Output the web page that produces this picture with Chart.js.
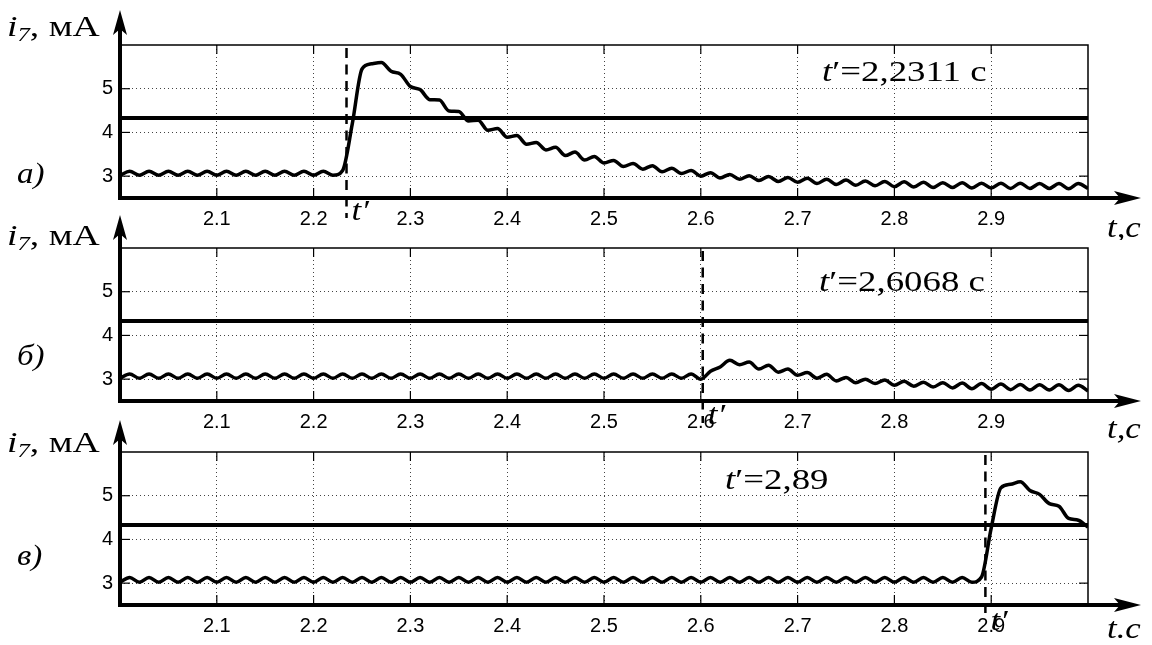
<!DOCTYPE html>
<html>
<head>
<meta charset="utf-8">
<script src="https://cdn.jsdelivr.net/npm/chart.js@4.4.0/dist/chart.umd.min.js"></script>
<style>
  html, body { margin: 0; padding: 0; background: #fff; overflow: hidden; }
  #wrap { position: relative; width: 1152px; height: 645px; }
  canvas { position: absolute; left: 0; }
</style>
</head>
<body>
<div id="wrap">
  <canvas id="chart-a" width="1152" height="240" style="top:0px"></canvas>
  <canvas id="chart-b" width="1152" height="240" style="top:203px"></canvas>
  <canvas id="chart-c" width="1152" height="240" style="top:407px"></canvas>
</div>
<script>
// sample times, s
const times = [
  2.00, 2.01, 2.02, 2.03, 2.04, 2.05, 2.06, 2.07, 2.08, 2.09,
  2.10, 2.11, 2.12, 2.13, 2.14, 2.15, 2.16, 2.17, 2.18, 2.19,
  2.20, 2.21, 2.22, 2.23, 2.24, 2.25, 2.26, 2.27, 2.28, 2.29,
  2.30, 2.31, 2.32, 2.33, 2.34, 2.35, 2.36, 2.37, 2.38, 2.39,
  2.40, 2.41, 2.42, 2.43, 2.44, 2.45, 2.46, 2.47, 2.48, 2.49,
  2.50, 2.51, 2.52, 2.53, 2.54, 2.55, 2.56, 2.57, 2.58, 2.59,
  2.60, 2.61, 2.62, 2.63, 2.64, 2.65, 2.66, 2.67, 2.68, 2.69,
  2.70, 2.71, 2.72, 2.73, 2.74, 2.75, 2.76, 2.77, 2.78, 2.79,
  2.80, 2.81, 2.82, 2.83, 2.84, 2.85, 2.86, 2.87, 2.88, 2.89,
  2.90, 2.91, 2.92, 2.93, 2.94, 2.95, 2.96, 2.97, 2.98, 2.99,
  3.00
];

// i7, mA  (а)
const iA = [
  3.02, 3.11, 3.02, 3.11, 3.02, 3.11, 3.02, 3.11, 3.02, 3.11,
  3.02, 3.11, 3.02, 3.11, 3.02, 3.11, 3.02, 3.11, 3.02, 3.11,
  3.02, 3.11, 3.02, 3.13, 4.20, 5.45, 5.57, 5.60, 5.40, 5.33,
  5.05, 4.98, 4.75, 4.74, 4.49, 4.48, 4.26, 4.28, 4.05, 4.09,
  3.89, 3.93, 3.73, 3.77, 3.60, 3.66, 3.47, 3.55, 3.37, 3.45,
  3.30, 3.36, 3.22, 3.29, 3.16, 3.24, 3.10, 3.18, 3.06, 3.13,
  3.00, 3.08, 2.96, 3.04, 2.93, 3.01, 2.90, 2.99, 2.88, 2.97,
  2.86, 2.95, 2.83, 2.93, 2.81, 2.91, 2.79, 2.89, 2.78, 2.88,
  2.76, 2.87, 2.75, 2.86, 2.74, 2.85, 2.74, 2.85, 2.73, 2.84,
  2.73, 2.84, 2.72, 2.84, 2.72, 2.83, 2.72, 2.83, 2.71, 2.83,
  2.72
];

// i7, mA  (б)
const iB = [
  3.02, 3.12, 3.02, 3.12, 3.02, 3.12, 3.02, 3.12, 3.02, 3.12,
  3.02, 3.12, 3.02, 3.12, 3.02, 3.12, 3.02, 3.12, 3.02, 3.12,
  3.02, 3.12, 3.02, 3.12, 3.02, 3.12, 3.02, 3.12, 3.02, 3.12,
  3.02, 3.12, 3.02, 3.12, 3.02, 3.12, 3.02, 3.12, 3.02, 3.12,
  3.02, 3.12, 3.02, 3.12, 3.02, 3.12, 3.02, 3.12, 3.02, 3.12,
  3.02, 3.12, 3.02, 3.12, 3.02, 3.12, 3.02, 3.12, 3.02, 3.12,
  3.00, 3.18, 3.28, 3.43, 3.33, 3.39, 3.23, 3.32, 3.16, 3.23,
  3.09, 3.15, 3.02, 3.11, 2.96, 3.04, 2.92, 3.00, 2.90, 2.98,
  2.86, 2.95, 2.84, 2.93, 2.82, 2.92, 2.80, 2.91, 2.78, 2.90,
  2.77, 2.89, 2.76, 2.88, 2.75, 2.87, 2.75, 2.87, 2.74, 2.86,
  2.73
];

// i7, mA  (в)
const iC = [
  3.02, 3.13, 3.02, 3.13, 3.02, 3.13, 3.02, 3.13, 3.02, 3.13,
  3.02, 3.13, 3.02, 3.13, 3.02, 3.13, 3.02, 3.13, 3.02, 3.13,
  3.02, 3.13, 3.02, 3.13, 3.02, 3.13, 3.02, 3.13, 3.02, 3.13,
  3.02, 3.13, 3.02, 3.13, 3.02, 3.13, 3.02, 3.13, 3.02, 3.13,
  3.02, 3.13, 3.02, 3.13, 3.02, 3.13, 3.02, 3.13, 3.02, 3.13,
  3.02, 3.13, 3.02, 3.13, 3.02, 3.13, 3.02, 3.13, 3.02, 3.13,
  3.02, 3.13, 3.02, 3.13, 3.02, 3.13, 3.02, 3.13, 3.02, 3.13,
  3.02, 3.13, 3.02, 3.13, 3.02, 3.13, 3.02, 3.13, 3.02, 3.13,
  3.02, 3.13, 3.02, 3.13, 3.02, 3.13, 3.02, 3.13, 3.02, 3.14,
  4.26, 5.18, 5.26, 5.32, 5.12, 5.03, 4.82, 4.76, 4.48, 4.44,
  4.28
];

const xRange = [2.0, 3.0];
const yRange = [2.5, 6.0];
const xTicks = [2.1, 2.2, 2.3, 2.4, 2.5, 2.6, 2.7, 2.8, 2.9];
const yTicks = [3, 4, 5];
const threshold = 4.33;
const tPrime = [2.234, 2.602, 2.894];
const tPrimeText = ['=2,2311 с', '=2,6068 с', '=2,89'];
const panelNames = ['а)', 'б)', 'в)'];
const timeAxisNames = ['t,с', 't,с', 't.с'];

const SERIF = '"Liberation Serif", "Times New Roman", serif';
const SANS = '"Liberation Sans", Arial, sans-serif';

// where the hand-placed texts go in each canvas
const panels = [
  { id: 'chart-a', values: iA, arrowTip: 10, labelY: 36, panelY: 183, unitY: 237, primeY: 220, noteX: 822, noteY: 81, dashEnd: 218 },
  { id: 'chart-b', values: iB, arrowTip: 12, labelY: 42, panelY: 162, unitY: 235, primeY: 221, noteX: 819, noteY: 88, dashEnd: 220 },
  { id: 'chart-c', values: iC, arrowTip: 13, labelY: 45, panelY: 158, unitY: 231, primeY: 223, noteX: 725, noteY: 82, dashEnd: 206 }
];

function seg(ctx, x1, y1, x2, y2) {
  ctx.beginPath(); ctx.moveTo(x1, y1); ctx.lineTo(x2, y2); ctx.stroke();
}

// draws text pieces side by side, stretched horizontally like the scan
function runs(ctx, x, y, sx, parts) {
  ctx.save();
  ctx.translate(x, y);
  ctx.scale(sx, 1);
  ctx.textAlign = 'left';
  ctx.textBaseline = 'alphabetic';
  let cx = 0;
  parts.forEach(([txt, font, dy]) => {
    ctx.font = font;
    ctx.fillText(txt, cx, dy || 0);
    cx += ctx.measureText(txt).width;
  });
  ctx.restore();
}

function decor(p, k) {
  return {
    id: 'decor' + k,
    afterDraw(chart) {
      const ctx = chart.ctx, a = chart.chartArea;
      const xs = chart.scales.x, ys = chart.scales.y;
      ctx.save();
      ctx.strokeStyle = '#000';
      ctx.fillStyle = '#000';

      // thin frame top and right
      ctx.lineWidth = 1.5;
      ctx.beginPath();
      ctx.moveTo(a.left, a.top); ctx.lineTo(a.right, a.top); ctx.lineTo(a.right, a.bottom);
      ctx.stroke();

      // short inner ticks
      ctx.lineWidth = 1.2;
      xTicks.forEach(v => {
        const x = xs.getPixelForValue(v);
        seg(ctx, x, a.top, x, a.top + 9);
        seg(ctx, x, a.bottom, x, a.bottom - 10);
      });
      yTicks.forEach(v => {
        const y = ys.getPixelForValue(v);
        seg(ctx, a.left, y, a.left + 10, y);
        seg(ctx, a.right, y, a.right - 9, y);
      });

      // thick axes with arrows
      ctx.lineWidth = 4;
      seg(ctx, a.left, a.bottom + 2, a.left, p.arrowTip + 16);
      seg(ctx, a.left - 2, a.bottom, 1124, a.bottom);
      ctx.beginPath();
      ctx.moveTo(a.left, p.arrowTip);
      ctx.lineTo(a.left - 7, p.arrowTip + 25);
      ctx.lineTo(a.left, p.arrowTip + 19);
      ctx.lineTo(a.left + 7, p.arrowTip + 25);
      ctx.closePath(); ctx.fill();
      ctx.beginPath();
      ctx.moveTo(1141, a.bottom);
      ctx.lineTo(1114, a.bottom - 7);
      ctx.lineTo(1120, a.bottom);
      ctx.lineTo(1114, a.bottom + 7);
      ctx.closePath(); ctx.fill();

      // t' marker
      const xp = xs.getPixelForValue(tPrime[k]);
      ctx.lineWidth = 2.5;
      ctx.setLineDash([10, 6.5]);
      seg(ctx, xp, a.top + 3, xp, p.dashEnd);
      ctx.setLineDash([]);

      // texts
      runs(ctx, 7, p.labelY, 1.3, [
        ['i', 'italic 29px ' + SERIF],
        ['7', 'italic 19px ' + SERIF, 5],
        [', мА', '29px ' + SERIF]
      ]);
      runs(ctx, 17, p.panelY, 1.1, [[panelNames[k], 'italic 30px ' + SERIF]]);
      runs(ctx, 1107, p.unitY, 1.2, [[timeAxisNames[k], 'italic 29px ' + SERIF]]);
      runs(ctx, xp + 5, p.primeY, 1.2, [['t′', 'italic 29px ' + SERIF]]);
      runs(ctx, p.noteX, p.noteY, 1.27, [
        ['t', 'italic 29px ' + SERIF],
        ['′' + tPrimeText[k], '29px ' + SERIF]
      ]);
      ctx.restore();
    }
  };
}

panels.forEach((p, k) => {
  new Chart(document.getElementById(p.id), {
    type: 'line',
    data: {
      datasets: [
        {
          data: times.map((t, i) => ({ x: t, y: p.values[i] })),
          borderColor: '#000',
          borderWidth: 3.5,
          pointRadius: 0,
          cubicInterpolationMode: 'monotone'
        },
        {
          data: xRange.map(t => ({ x: t, y: threshold })),
          borderColor: '#000',
          borderWidth: 4,
          pointRadius: 0
        }
      ]
    },
    options: {
      responsive: false,
      animation: false,
      layout: { padding: { left: 0, right: 64, top: 45, bottom: 0 } },
      plugins: { legend: { display: false }, tooltip: { enabled: false } },
      scales: {
        x: {
          type: 'linear',
          min: xRange[0],
          max: xRange[1],
          afterBuildTicks: s => { s.ticks = xTicks.map(v => ({ value: v })); },
          afterFit: s => { s.height = 42; },
          ticks: {
            color: '#000',
            font: { family: SANS, size: 20 },
            padding: 9,
            maxRotation: 0,
            autoSkip: false,
            callback: v => v.toFixed(1)
          },
          grid: { color: '#444', lineWidth: 1, drawTicks: false },
          border: { display: false, dash: [1, 3] }
        },
        y: {
          type: 'linear',
          min: yRange[0],
          max: yRange[1],
          afterBuildTicks: s => { s.ticks = yTicks.map(v => ({ value: v })); },
          afterFit: s => { s.width = 120; },
          ticks: {
            color: '#000',
            font: { family: SANS, size: 20 },
            padding: 7,
            callback: v => String(v)
          },
          grid: { color: '#444', lineWidth: 1, drawTicks: false },
          border: { display: false, dash: [1, 3] }
        }
      }
    },
    plugins: [decor(p, k)]
  });
});
</script>
</body>
</html>
